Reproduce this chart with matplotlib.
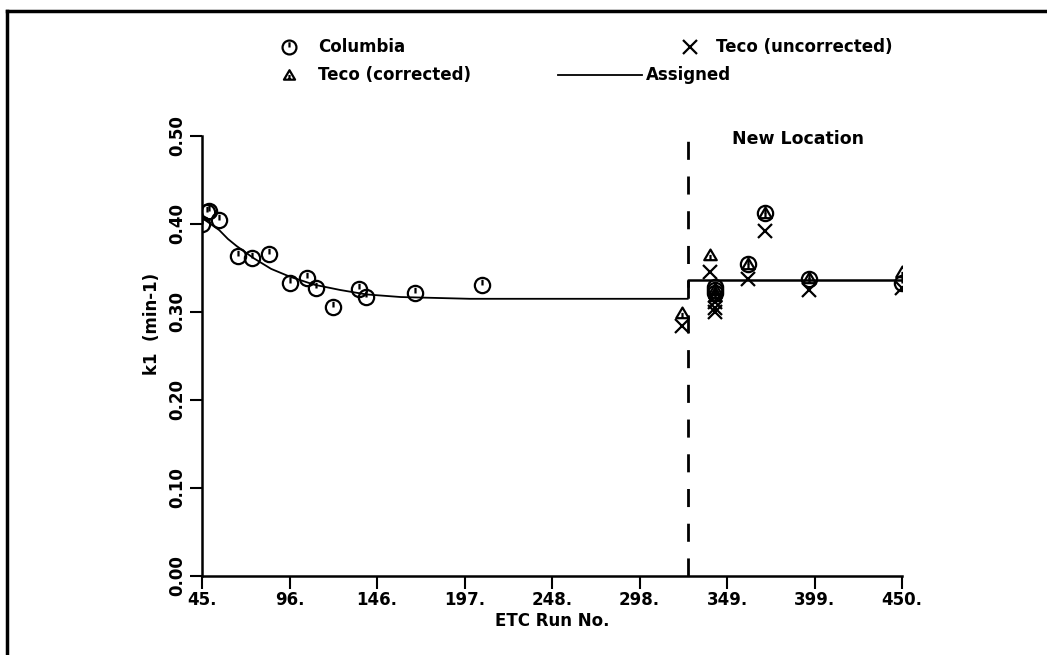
import matplotlib.pyplot as plt
from matplotlib.path import Path
from matplotlib.lines import Line2D
import numpy as np

# Columbia measurements (old location)
col_x = [45, 48, 49, 55, 66, 74, 84, 96, 106, 111, 121, 136, 140, 168, 207]
col_y = [0.400, 0.414, 0.415, 0.405, 0.364, 0.361, 0.366, 0.333, 0.339,
         0.327, 0.306, 0.326, 0.317, 0.322, 0.331]

# Columbia measurements (new location)
col2_x = [342, 342, 342, 361, 371, 396, 450]
col2_y = [0.328, 0.325, 0.322, 0.355, 0.413, 0.338, 0.333]

# Teco corrected
tc_x = [323, 339, 342, 342, 342, 361, 371, 396, 450]
tc_y = [0.299, 0.365, 0.326, 0.322, 0.318, 0.355, 0.413, 0.339, 0.345]

# Teco uncorrected
tu_x = [323, 339, 342, 342, 342, 361, 371, 396, 450]
tu_y = [0.284, 0.346, 0.311, 0.305, 0.300, 0.337, 0.392, 0.325, 0.327]

# Assigned value curve
asg1_x = [45, 50, 55, 60, 65, 75, 85, 96, 110, 125, 140, 160, 180, 200, 326]
asg1_y = [0.407, 0.400, 0.393, 0.383, 0.375, 0.361, 0.349, 0.340, 0.331,
          0.325, 0.320, 0.317, 0.316, 0.315, 0.315]
asg2_x = [326, 326, 450]
asg2_y = [0.330, 0.336, 0.336]

new_loc_x = 326
xticks = [45 + i * 405 / 8 for i in range(9)]
xtick_labels = ["45.", "96.", "146.", "197.", "248.", "298.", "349.", "399.", "450."]
yticks = [0.0, 0.1, 0.2, 0.3, 0.4, 0.5]
ytick_labels = ["0.00", "0.10", "0.20", "0.30", "0.40", "0.50"]

# circle with a tick, triangle with a tick
circ = Path.circle((0, 0), 1.0)
tick = Path([(0, 0.0), (0, 0.75)], [Path.MOVETO, Path.LINETO])
circ_marker = Path.make_compound_path(circ, tick)
tri = Path([(-1, -0.75), (1, -0.75), (0, 0.95), (-1, -0.75)],
           [Path.MOVETO, Path.LINETO, Path.LINETO, Path.CLOSEPOLY])
tri_tick = Path([(0, -0.7), (0, 0.1)], [Path.MOVETO, Path.LINETO])
tri_marker = Path.make_compound_path(tri, tri_tick)

plt.rcParams['font.family'] = ['DejaVu Sans']
plt.rcParams['font.weight'] = 'bold'

fig = plt.figure(figsize=(10.47, 6.55), dpi=100)
ax = fig.add_axes([202 / 1047, 1 - 576 / 655, 700 / 1047, 440 / 655])

mk = dict(linestyle='none', markerfacecolor='none', markeredgecolor='black',
          markeredgewidth=1.6)
ax.plot(col_x, col_y, marker=circ_marker, markersize=11, **mk)
ax.plot(col2_x, col2_y, marker=circ_marker, markersize=11, **mk)
ax.plot(tc_x, tc_y, marker=tri_marker, markersize=9, **mk)
ax.plot(tu_x, tu_y, marker='x', markersize=10, **mk)
ax.plot(asg1_x, asg1_y, color='black', lw=1.3)
ax.plot(asg2_x, asg2_y, color='black', lw=1.8)
ax.plot([new_loc_x, new_loc_x], [0, 0.5], color='black', lw=2,
        linestyle=(0, (6.5, 6)))
ax.text(390, 0.497, "New Location", fontsize=12.5, fontweight='bold',
        ha='center', va='center')

ax.set_xlim(45, 450)
ax.set_ylim(0, 0.5)
ax.set_xticks(xticks)
ax.set_xticklabels(xtick_labels)
ax.set_yticks(yticks)
ax.set_yticklabels(ytick_labels, rotation=90, va='center')
ax.tick_params(axis='both', direction='out', length=9, width=1.5,
               labelsize=12, pad=2)
for s in ['top', 'right']:
    ax.spines[s].set_visible(False)
for s in ['left', 'bottom']:
    ax.spines[s].set_linewidth(1.8)
ax.spines['left'].set_bounds(0, 0.5)
ax.spines['bottom'].set_bounds(45, 450)
ax.set_xlabel("ETC Run No.", fontsize=12, fontweight='bold', labelpad=2)
ax.set_ylabel("k1  (min-1)", fontsize=12, fontweight='bold', labelpad=6)
ax.yaxis.set_label_coords(-0.058, 0.573)

# legend drawn by hand above the axes
def fy(py):
    return 1 - py / 655

def fx(px):
    return px / 1047

fig.add_artist(Line2D([fx(289)], [fy(47)], marker=circ_marker, markersize=10, **mk))
fig.text(fx(318), fy(47), "Columbia", fontsize=12, fontweight='bold', va='center')
fig.add_artist(Line2D([fx(690)], [fy(47)], marker='x', markersize=10, **mk))
fig.text(fx(716), fy(47), "Teco (uncorrected)", fontsize=12, fontweight='bold', va='center')
fig.add_artist(Line2D([fx(289)], [fy(75)], marker=tri_marker, markersize=8, **mk))
fig.text(fx(318), fy(75), "Teco (corrected)", fontsize=12, fontweight='bold', va='center')
fig.add_artist(Line2D([fx(558), fx(642)], [fy(75), fy(75)], color='black', lw=1.3))
fig.text(fx(646), fy(75), "Assigned", fontsize=12, fontweight='bold', va='center')

# page frame: top and left edges
fig.add_artist(Line2D([fx(7), 1.0], [fy(11), fy(11)], color='black', lw=2.5))
fig.add_artist(Line2D([fx(7), fx(7)], [fy(11), 0.0], color='black', lw=2.5))

fig.savefig("out.png", dpi=100)
